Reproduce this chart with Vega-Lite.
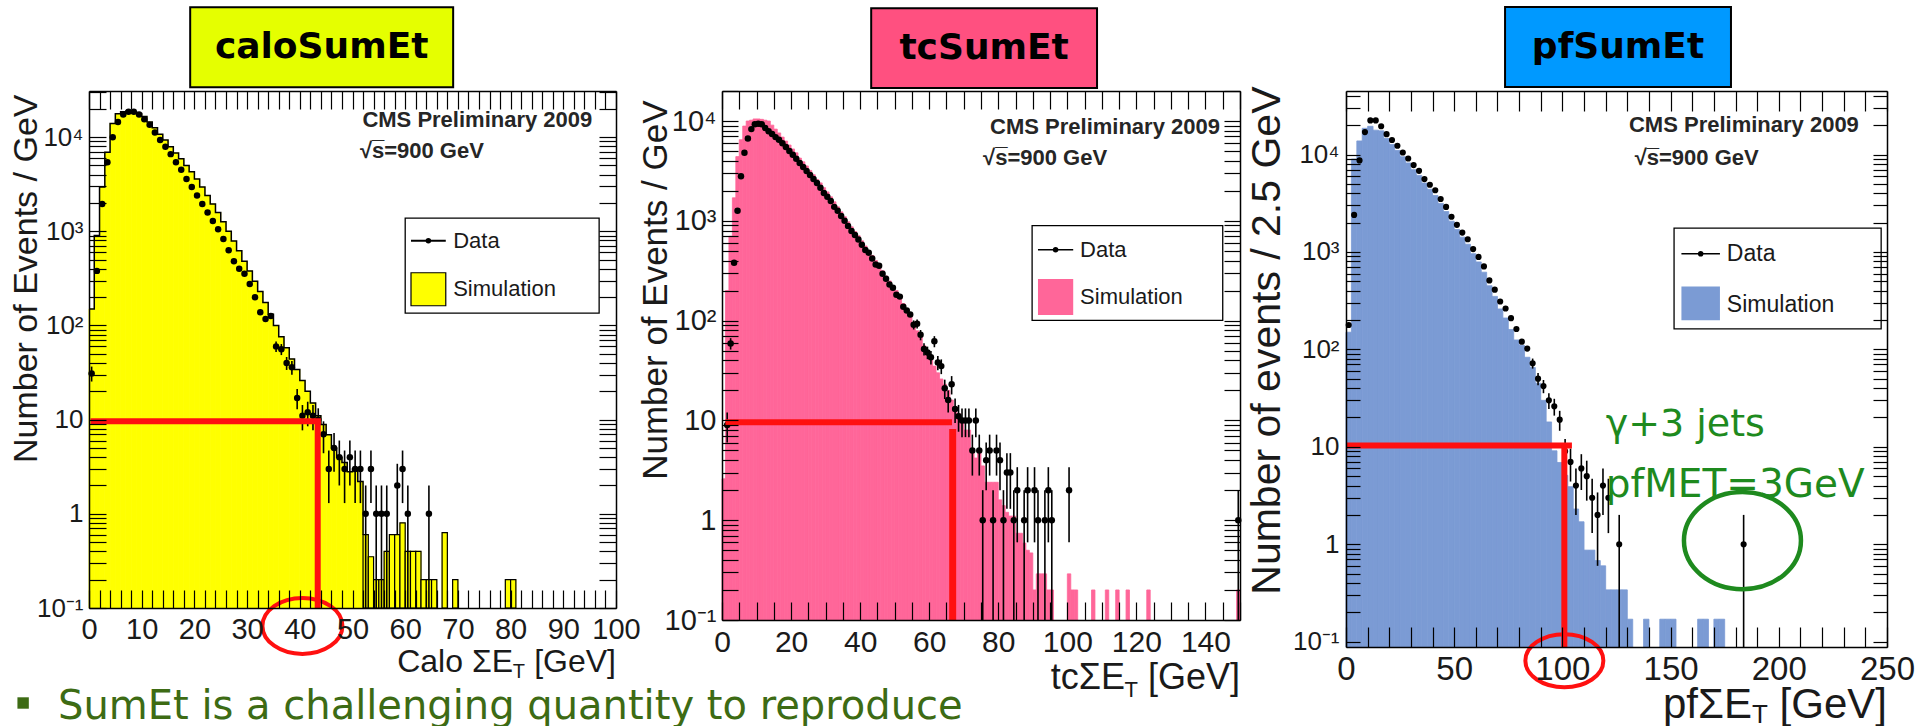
{
"$schema": "https://vega.github.io/schema/vega-lite/v6.json",
"background": "white",
"padding": {"left": 8, "top": 5, "right": 0, "bottom": 0},
"autosize": {"type": "pad"},
"config": {
  "view": {"stroke": null},
  "axis": {"grid": false, "domainColor": "black", "domainWidth": 1.5, "tickColor": "black", "tickWidth": 1.2, "labelFont": "Liberation Sans", "labelColor": "#1a1a1a", "labelOverlap": false, "labelFlush": false, "titleFont": "Liberation Sans", "titleFontWeight": "normal", "titleColor": "#1a1a1a"}
},
"datasets": {
  "p1sim": [
    {"lo":0,"hi":1,"n":150},{"lo":1,"hi":2,"n":900},{"lo":2,"hi":3,"n":2950},{"lo":3,"hi":4,"n":6900},{"lo":4,"hi":5,"n":14000},{"lo":5,"hi":6,"n":17700},{"lo":6,"hi":7,"n":18600},{"lo":7,"hi":8,"n":18900},{"lo":8,"hi":9,"n":18600},{"lo":9,"hi":10,"n":17800},
    {"lo":10,"hi":11,"n":16600},{"lo":11,"hi":12,"n":14500},{"lo":12,"hi":13,"n":12600},{"lo":13,"hi":14,"n":10700},{"lo":14,"hi":15,"n":9300},{"lo":15,"hi":16,"n":7900},{"lo":16,"hi":17,"n":6800},{"lo":17,"hi":18,"n":5900},{"lo":18,"hi":19,"n":5000},{"lo":19,"hi":20,"n":4300},
    {"lo":20,"hi":21,"n":3600},{"lo":21,"hi":22,"n":2950},{"lo":22,"hi":23,"n":2400},{"lo":23,"hi":24,"n":1950},{"lo":24,"hi":25,"n":1580},{"lo":25,"hi":26,"n":1260},{"lo":26,"hi":27,"n":1000},{"lo":27,"hi":28,"n":790},{"lo":28,"hi":29,"n":620},{"lo":29,"hi":30,"n":480},
    {"lo":30,"hi":31,"n":380},{"lo":31,"hi":32,"n":295},{"lo":32,"hi":33,"n":230},{"lo":33,"hi":34,"n":175},{"lo":34,"hi":35,"n":132},{"lo":35,"hi":36,"n":100},{"lo":36,"hi":37,"n":76},{"lo":37,"hi":38,"n":58},{"lo":38,"hi":39,"n":44},{"lo":39,"hi":40,"n":34},
    {"lo":40,"hi":41,"n":26},{"lo":41,"hi":42,"n":20},{"lo":42,"hi":43,"n":15},{"lo":43,"hi":44,"n":11},{"lo":44,"hi":45,"n":8.9},{"lo":45,"hi":46,"n":6.9},{"lo":46,"hi":47,"n":5},{"lo":47,"hi":48,"n":4},{"lo":48,"hi":49,"n":3.5},{"lo":49,"hi":50,"n":2.8},
    {"lo":50,"hi":51,"n":3},{"lo":51,"hi":52,"n":2.2},{"lo":52,"hi":53,"n":0.6},{"lo":53,"hi":54,"n":0.35},{"lo":54,"hi":55,"n":0.2},{"lo":55,"hi":56,"n":0.2},{"lo":56,"hi":57,"n":0.4},{"lo":57,"hi":58,"n":0.6},{"lo":58,"hi":59,"n":0.6},{"lo":59,"hi":60,"n":0.8},
    {"lo":60,"hi":61,"n":0.4},{"lo":61,"hi":62,"n":0.4},{"lo":62,"hi":63,"n":0.4},{"lo":63,"hi":64,"n":0.2},{"lo":64,"hi":65,"n":0.2},{"lo":65,"hi":66,"n":0.2},{"lo":67,"hi":68,"n":0.63},{"lo":69,"hi":70,"n":0.2},{"lo":79,"hi":80,"n":0.2},{"lo":80,"hi":81,"n":0.2}
  ],
  "p1dat": [
    {"c":0.5,"n":31,"lo":25.4,"hi":36.6},{"c":1.5,"n":380},{"c":2.5,"n":1950},{"c":3.5,"n":5400},{"c":4.5,"n":10000},{"c":5.5,"n":14500},{"c":6.5,"n":17400},{"c":7.5,"n":18600},{"c":8.5,"n":18600},{"c":9.5,"n":17400},
    {"c":10.5,"n":15500},{"c":11.5,"n":13500},{"c":12.5,"n":11200},{"c":13.5,"n":9300},{"c":14.5,"n":7900},{"c":15.5,"n":6600},{"c":16.5,"n":5400},{"c":17.5,"n":4500},{"c":18.5,"n":3600},{"c":19.5,"n":2950},
    {"c":20.5,"n":2400},{"c":21.5,"n":1950},{"c":22.5,"n":1580},{"c":23.5,"n":1290},{"c":24.5,"n":1050},{"c":25.5,"n":830},{"c":26.5,"n":630},{"c":27.5,"n":480},{"c":28.5,"n":400},{"c":29.5,"n":355},
    {"c":30.5,"n":275},{"c":31.5,"n":200},{"c":32.5,"n":138},{"c":33.5,"n":117},{"c":34.5,"n":126},{"c":35.5,"n":60,"lo":52.3,"hi":67.7},{"c":36.5,"n":56,"lo":48.5,"hi":63.5},{"c":37.5,"n":40,"lo":33.7,"hi":46.3},{"c":38.5,"n":36,"lo":30,"hi":42},{"c":39.5,"n":17,"lo":12.9,"hi":21.1},
    {"c":40.5,"n":11,"lo":7.7,"hi":14.3},{"c":41.5,"n":12,"lo":8.5,"hi":15.5},{"c":42.5,"n":11,"lo":7.7,"hi":14.3},{"c":43.5,"n":10,"lo":6.8,"hi":13.2},{"c":44.5,"n":7,"lo":4.4,"hi":9.6},{"c":45.5,"n":3,"lo":1.3,"hi":4.7},{"c":46.5,"n":5,"lo":2.8,"hi":7.2},{"c":47.5,"n":4,"lo":2,"hi":6},{"c":48.5,"n":3,"lo":1.3,"hi":4.7},{"c":49.5,"n":4,"lo":2,"hi":6},
    {"c":50.5,"n":3,"lo":1.3,"hi":4.7},{"c":51.5,"n":3,"lo":1.3,"hi":4.7},{"c":52.5,"n":1,"lo":0.1,"hi":2},{"c":53.5,"n":3,"lo":1.3,"hi":4.7},{"c":54.5,"n":1,"lo":0.1,"hi":2},{"c":55.5,"n":1,"lo":0.1,"hi":2},{"c":56.5,"n":1,"lo":0.1,"hi":2},{"c":58.5,"n":2,"lo":0.6,"hi":3.4},{"c":59.5,"n":3,"lo":1.3,"hi":4.7},{"c":60.5,"n":1,"lo":0.1,"hi":2},
    {"c":64.5,"n":1,"lo":0.1,"hi":2}
  ],
  "p2sim": [
    {"lo":0,"hi":1,"n":2.6},{"lo":1,"hi":2,"n":200},{"lo":2,"hi":3,"n":700},{"lo":3,"hi":4,"n":1700},{"lo":4,"hi":5,"n":4400},{"lo":5,"hi":6,"n":6500},{"lo":6,"hi":7,"n":8900},{"lo":7,"hi":8,"n":10000},{"lo":8,"hi":9,"n":10200},{"lo":9,"hi":10,"n":10500},
    {"lo":10,"hi":11,"n":10500},{"lo":11,"hi":12,"n":10400},{"lo":12,"hi":13,"n":10200},{"lo":13,"hi":14,"n":10000},{"lo":14,"hi":15,"n":9100},{"lo":15,"hi":16,"n":8300},{"lo":16,"hi":17,"n":7600},{"lo":17,"hi":18,"n":6900},{"lo":18,"hi":19,"n":6300},{"lo":19,"hi":20,"n":5750},
    {"lo":20,"hi":21,"n":5250},{"lo":21,"hi":22,"n":4800},{"lo":22,"hi":23,"n":4250},{"lo":23,"hi":24,"n":3900},{"lo":24,"hi":25,"n":3550},{"lo":25,"hi":26,"n":3200},{"lo":26,"hi":27,"n":2900},{"lo":27,"hi":28,"n":2600},{"lo":28,"hi":29,"n":2400},{"lo":29,"hi":30,"n":2150},
    {"lo":30,"hi":31,"n":1950},{"lo":31,"hi":32,"n":1740},{"lo":32,"hi":33,"n":1550},{"lo":33,"hi":34,"n":1380},{"lo":34,"hi":35,"n":1230},{"lo":35,"hi":36,"n":1100},{"lo":36,"hi":37,"n":980},{"lo":37,"hi":38,"n":870},{"lo":38,"hi":39,"n":780},{"lo":39,"hi":40,"n":710},
    {"lo":40,"hi":41,"n":630},{"lo":41,"hi":42,"n":560},{"lo":42,"hi":43,"n":500},{"lo":43,"hi":44,"n":450},{"lo":44,"hi":45,"n":400},{"lo":45,"hi":46,"n":355},{"lo":46,"hi":47,"n":316},{"lo":47,"hi":48,"n":280},{"lo":48,"hi":49,"n":250},{"lo":49,"hi":50,"n":224},
    {"lo":50,"hi":51,"n":200},{"lo":51,"hi":52,"n":174},{"lo":52,"hi":53,"n":148},{"lo":53,"hi":54,"n":129},{"lo":54,"hi":55,"n":110},{"lo":55,"hi":56,"n":95},{"lo":56,"hi":57,"n":79},{"lo":57,"hi":58,"n":68},{"lo":58,"hi":59,"n":56},{"lo":59,"hi":60,"n":48},
    {"lo":60,"hi":61,"n":40},{"lo":61,"hi":62,"n":35},{"lo":62,"hi":63,"n":30},{"lo":63,"hi":64,"n":26},{"lo":64,"hi":65,"n":23},{"lo":65,"hi":66,"n":20},{"lo":66,"hi":67,"n":16},{"lo":67,"hi":68,"n":12.6},{"lo":68,"hi":69,"n":11.7},{"lo":69,"hi":70,"n":10},
    {"lo":70,"hi":71,"n":8},{"lo":71,"hi":72,"n":8},{"lo":72,"hi":73,"n":4.9},{"lo":73,"hi":74,"n":4.2},{"lo":74,"hi":75,"n":4.9},{"lo":75,"hi":76,"n":3.5},{"lo":76,"hi":77,"n":2.4},{"lo":77,"hi":78,"n":2.4},{"lo":78,"hi":79,"n":2.4},{"lo":79,"hi":80,"n":2.4},
    {"lo":80,"hi":81,"n":1.6},{"lo":81,"hi":82,"n":1.4},{"lo":82,"hi":83,"n":1.2},{"lo":83,"hi":84,"n":1.1},{"lo":84,"hi":85,"n":1.1},{"lo":85,"hi":86,"n":0.74},{"lo":86,"hi":87,"n":0.74},{"lo":87,"hi":88,"n":0.59},{"lo":88,"hi":89,"n":0.5},{"lo":89,"hi":90,"n":0.47},
    {"lo":90,"hi":91,"n":0.2},{"lo":91,"hi":92,"n":0.29},{"lo":92,"hi":93,"n":0.29},{"lo":93,"hi":94,"n":0.29},{"lo":94,"hi":95,"n":0.2},{"lo":95,"hi":96,"n":0.2},{"lo":100,"hi":101,"n":0.29},{"lo":101,"hi":102,"n":0.2},{"lo":102,"hi":103,"n":0.2},{"lo":107,"hi":108,"n":0.2},
    {"lo":111,"hi":112,"n":0.2},{"lo":114,"hi":115,"n":0.2},{"lo":117,"hi":118,"n":0.2},{"lo":123,"hi":124,"n":0.2},{"lo":149,"hi":150,"n":0.2}
  ],
  "p2dat": [
    {"c":1.5,"n":9,"lo":6,"hi":12},{"c":2.5,"n":59,"lo":51.3,"hi":66.7},{"c":3.5,"n":380},{"c":4.5,"n":1260},{"c":5.5,"n":2800},{"c":6.5,"n":4800},{"c":7.5,"n":6700},{"c":8.5,"n":8300},{"c":9.5,"n":9300},{"c":10.5,"n":9400},
    {"c":11.5,"n":9300},{"c":12.5,"n":8500},{"c":13.5,"n":7900},{"c":14.5,"n":7400},{"c":15.5,"n":6900},{"c":16.5,"n":6500},{"c":17.5,"n":6000},{"c":18.5,"n":5500},{"c":19.5,"n":5000},{"c":20.5,"n":4600},
    {"c":21.5,"n":4200},{"c":22.5,"n":3800},{"c":23.5,"n":3470},{"c":24.5,"n":3160},{"c":25.5,"n":2880},{"c":26.5,"n":2630},{"c":27.5,"n":2400},{"c":28.5,"n":2140},{"c":29.5,"n":1900},{"c":30.5,"n":1740},
    {"c":31.5,"n":1580},{"c":32.5,"n":1380},{"c":33.5,"n":1260},{"c":34.5,"n":1120},{"c":35.5,"n":1000},{"c":36.5,"n":890},{"c":37.5,"n":790},{"c":38.5,"n":720},{"c":39.5,"n":650},{"c":40.5,"n":575},
    {"c":41.5,"n":510},{"c":42.5,"n":480},{"c":43.5,"n":420},{"c":44.5,"n":365},{"c":45.5,"n":355},{"c":46.5,"n":295},{"c":47.5,"n":263},{"c":48.5,"n":230},{"c":49.5,"n":214},{"c":50.5,"n":182},
    {"c":51.5,"n":174},{"c":52.5,"n":138},{"c":53.5,"n":126},{"c":54.5,"n":115},{"c":55.5,"n":91,"lo":81.5,"hi":100.5},{"c":56.5,"n":93,"lo":83.4,"hi":102.6},{"c":57.5,"n":72,"lo":63.5,"hi":80.5},{"c":58.5,"n":52,"lo":44.8,"hi":59.2},{"c":59.5,"n":48,"lo":41.1,"hi":54.9},{"c":60.5,"n":43,"lo":36.4,"hi":49.6},
    {"c":61.5,"n":62,"lo":54.1,"hi":69.9},{"c":62.5,"n":38,"lo":31.8,"hi":44.2},{"c":63.5,"n":35,"lo":29.1,"hi":40.9},{"c":64.5,"n":21,"lo":16.4,"hi":25.6},{"c":65.5,"n":16,"lo":12,"hi":20},{"c":66.5,"n":23,"lo":18.2,"hi":27.8},{"c":67.5,"n":13,"lo":9.4,"hi":16.6},{"c":68.5,"n":11,"lo":7.7,"hi":14.3},{"c":69.5,"n":10,"lo":6.8,"hi":13.2},{"c":70.5,"n":10,"lo":6.8,"hi":13.2},
    {"c":71.5,"n":10,"lo":6.8,"hi":13.2},{"c":72.5,"n":5,"lo":2.8,"hi":7.2},{"c":73.5,"n":10,"lo":6.8,"hi":13.2},{"c":74.5,"n":5,"lo":2.8,"hi":7.2},{"c":75.5,"n":1,"lo":0.1,"hi":2},{"c":76.5,"n":4,"lo":2,"hi":6},{"c":77.5,"n":5,"lo":2.8,"hi":7.2},{"c":78.5,"n":1,"lo":0.1,"hi":2},{"c":79.5,"n":5,"lo":2.8,"hi":7.2},{"c":80.5,"n":4,"lo":2,"hi":6},
    {"c":81.5,"n":1,"lo":0.1,"hi":2},{"c":82.5,"n":3,"lo":1.3,"hi":4.7},{"c":83.5,"n":3,"lo":1.3,"hi":4.7},{"c":84.5,"n":1,"lo":0.1,"hi":2},{"c":85.5,"n":2,"lo":0.6,"hi":3.4},{"c":87.5,"n":1,"lo":0.1,"hi":2},{"c":88.5,"n":2,"lo":0.6,"hi":3.4},{"c":90.5,"n":2,"lo":0.6,"hi":3.4},{"c":91.5,"n":1,"lo":0.1,"hi":2},{"c":93.5,"n":1,"lo":0.1,"hi":2},
    {"c":94.5,"n":2,"lo":0.6,"hi":3.4},{"c":95.5,"n":1,"lo":0.1,"hi":2},{"c":100.5,"n":2,"lo":0.6,"hi":3.4},{"c":149.5,"n":1,"lo":0.1,"hi":2}
  ],
  "p3sim": [
    {"lo":0,"hi":2.5,"n":150},{"lo":2.5,"hi":5,"n":9000},{"lo":5,"hi":7.5,"n":13800},{"lo":7.5,"hi":10,"n":18600},{"lo":10,"hi":12.5,"n":19500},{"lo":12.5,"hi":15,"n":17800},{"lo":15,"hi":17.5,"n":17500},{"lo":17.5,"hi":20,"n":14600},{"lo":20,"hi":22.5,"n":12700},{"lo":22.5,"hi":25,"n":11000},
    {"lo":25,"hi":27.5,"n":9500},{"lo":27.5,"hi":30,"n":8200},{"lo":30,"hi":32.5,"n":7000},{"lo":32.5,"hi":35,"n":6100},{"lo":35,"hi":37.5,"n":5100},{"lo":37.5,"hi":40,"n":4400},{"lo":40,"hi":42.5,"n":3800},{"lo":42.5,"hi":45,"n":3150},{"lo":45,"hi":47.5,"n":2600},{"lo":47.5,"hi":50,"n":2070},
    {"lo":50,"hi":52.5,"n":1700},{"lo":52.5,"hi":55,"n":1420},{"lo":55,"hi":57.5,"n":1200},{"lo":57.5,"hi":60,"n":960},{"lo":60,"hi":62.5,"n":790},{"lo":62.5,"hi":65,"n":620},{"lo":65,"hi":67.5,"n":450},{"lo":67.5,"hi":70,"n":350},{"lo":70,"hi":72.5,"n":260},{"lo":72.5,"hi":75,"n":210},
    {"lo":75,"hi":77.5,"n":160},{"lo":77.5,"hi":80,"n":125},{"lo":80,"hi":82.5,"n":110},{"lo":82.5,"hi":85,"n":83},{"lo":85,"hi":87.5,"n":65},{"lo":87.5,"hi":90,"n":45},{"lo":90,"hi":92.5,"n":30},{"lo":92.5,"hi":95,"n":18},{"lo":95,"hi":97.5,"n":9.1},{"lo":97.5,"hi":100,"n":6.9},
    {"lo":100,"hi":102.5,"n":5.1},{"lo":102.5,"hi":105,"n":3.9},{"lo":105,"hi":107.5,"n":2.3},{"lo":107.5,"hi":110,"n":1.7},{"lo":110,"hi":112.5,"n":0.87},{"lo":112.5,"hi":115,"n":0.87},{"lo":115,"hi":117.5,"n":0.68},{"lo":117.5,"hi":120,"n":0.6},{"lo":120,"hi":122.5,"n":0.34},{"lo":122.5,"hi":125,"n":0.34},
    {"lo":125,"hi":127.5,"n":0.34},{"lo":127.5,"hi":130,"n":0.34},{"lo":130,"hi":132.5,"n":0.17},{"lo":137.5,"hi":140,"n":0.17},{"lo":145,"hi":147.5,"n":0.17},{"lo":147.5,"hi":150,"n":0.17},{"lo":150,"hi":152.5,"n":0.17},{"lo":162.5,"hi":165,"n":0.17},{"lo":165,"hi":167.5,"n":0.17},{"lo":170,"hi":172.5,"n":0.17},
    {"lo":172.5,"hi":175,"n":0.17}
  ],
  "p3dat": [
    {"c":1.25,"n":178},{"c":3.75,"n":2400},{"c":6.25,"n":8700},{"c":8.75,"n":17000},{"c":11.25,"n":22400},{"c":13.75,"n":22400},{"c":16.25,"n":19500},{"c":18.75,"n":16200},{"c":21.25,"n":14100},{"c":23.75,"n":12300},
    {"c":26.25,"n":10500},{"c":28.75,"n":9100},{"c":31.25,"n":7800},{"c":33.75,"n":6800},{"c":36.25,"n":5600},{"c":38.75,"n":4900},{"c":41.25,"n":4300},{"c":43.75,"n":3500},{"c":46.25,"n":2900},{"c":48.75,"n":2300},
    {"c":51.25,"n":1900},{"c":53.75,"n":1580},{"c":56.25,"n":1350},{"c":58.75,"n":1070},{"c":61.25,"n":890},{"c":63.75,"n":710},{"c":66.25,"n":510},{"c":68.75,"n":410},{"c":71.25,"n":310},{"c":73.75,"n":263},
    {"c":76.25,"n":209},{"c":78.75,"n":162},{"c":81.25,"n":120},{"c":83.75,"n":102},{"c":86.25,"n":72,"lo":63.5,"hi":80.5},{"c":88.75,"n":50,"lo":42.9,"hi":57.1},{"c":91.25,"n":42,"lo":35.5,"hi":48.5},{"c":93.75,"n":30,"lo":24.5,"hi":35.5},{"c":96.25,"n":26,"lo":20.9,"hi":31.1},{"c":98.75,"n":19,"lo":14.6,"hi":23.4},
    {"c":101.25,"n":9,"lo":6,"hi":12},{"c":103.75,"n":7,"lo":4.4,"hi":9.6},{"c":106.25,"n":4,"lo":2,"hi":6},{"c":108.75,"n":6,"lo":3.6,"hi":8.4},{"c":111.25,"n":5,"lo":2.8,"hi":7.2},{"c":113.75,"n":3,"lo":1.3,"hi":4.7},{"c":116.25,"n":2,"lo":0.6,"hi":3.4},{"c":118.75,"n":4,"lo":2,"hi":6},{"c":121.25,"n":3,"lo":1.3,"hi":4.7},{"c":126.25,"n":1,"lo":0.0881,"hi":2},
    {"c":183.75,"n":1,"lo":0.0881,"hi":2}
  ]
},
"spacing": 106,
"bounds": "flush",
"hconcat": [
{
  "width": 527, "height": 517,
  "resolve": {"axis": {"x": "independent", "y": "independent"}},
  "layer": [
    {"data": {"name": "p1sim"}, "mark": {"type": "rect", "fill": "#ffff00", "stroke": "#ffff00", "strokeWidth": 0.8},
     "encoding": {
       "x": {"field": "lo", "type": "quantitative", "scale": {"domain": [0, 100], "nice": false, "zero": false},
             "axis": {"orient": "bottom", "values": [0,2,4,6,8,10,12,14,16,18,20,22,24,26,28,30,32,34,36,38,40,42,44,46,48,50,52,54,56,58,60,62,64,66,68,70,72,74,76,78,80,82,84,86,88,90,92,94,96,98,100], "format": "d", "labelExpr": "datum.value % 10 === 0 ? datum.label : ''", "tickSize": -18, "labelPadding": 25, "labelFontSize": 29, "title": null, "domain": true, "zindex": 1,
                      "encode": {"ticks": {"update": {"y2": {"signal": "datum.value % 10 === 0 ? -18 : -9"}}}}}},
       "x2": {"field": "hi"},
       "y": {"field": "n", "type": "quantitative", "scale": {"type": "log", "domain": [0.1, 30900], "nice": false},
             "axis": {"orient": "left", "values": [0.1,0.2,0.3,0.4,0.5,0.6,0.7,0.8,0.9,1,2,3,4,5,6,7,8,9,10,20,30,40,50,60,70,80,90,100,200,300,400,500,600,700,800,900,1000,2000,3000,4000,5000,6000,7000,8000,9000,10000,20000,30000],
                      "labelExpr": "datum.value === 10000 ? '10⁴' : datum.value === 1000 ? '10³' : datum.value === 100 ? '10²' : datum.value === 10 ? '10' : datum.value === 1 ? '1' : datum.value === 0.1 ? '10⁻¹' : ''",
                      "tickSize": -17, "labelPadding": 23, "labelFontSize": 26, "domain": true, "zindex": 1,
                      "title": "Number of Events / GeV", "titleFontSize": 34, "titleX": -53, "titleY": 3, "titleAlign": "right", "titleAngle": -90, "titleBaseline": "alphabetic",
                      "encode": {"ticks": {"update": {"x2": {"signal": "indexof([0.1,1,10,100,1000,10000], datum.value) >= 0 ? 17 : 8"}}}}}},
       "y2": {"datum": 0.1}
     }},
    {"data": {"name": "p1sim"}, "transform": [{"filter": "datum.lo >= 52"}], "mark": {"type": "rect", "fill": "#ffff00", "stroke": "black", "strokeWidth": 1.2},
     "encoding": {"x": {"field": "lo", "type": "quantitative", "axis": null}, "x2": {"field": "hi"}, "y": {"field": "n", "type": "quantitative", "axis": null}, "y2": {"datum": 0.1}}},
    {"data": {"name": "p1sim"}, "transform": [{"filter": "datum.lo <= 52"}], "mark": {"type": "line", "interpolate": "step-after", "color": "black", "strokeWidth": 1.5},
     "encoding": {"x": {"field": "lo", "type": "quantitative", "axis": null}, "y": {"field": "n", "type": "quantitative", "axis": null}}},
    {"data": {"name": "p1dat"}, "transform": [{"filter": "isValid(datum.lo)"}], "mark": {"type": "rule", "color": "black", "strokeWidth": 1.6},
     "encoding": {"x": {"field": "c", "type": "quantitative", "axis": null}, "y": {"field": "lo", "type": "quantitative", "axis": null}, "y2": {"field": "hi"}}},
    {"data": {"name": "p1dat"}, "mark": {"type": "point", "filled": true, "color": "black", "size": 42, "opacity": 1},
     "encoding": {
       "x": {"field": "c", "type": "quantitative", "axis": {"orient": "top", "values": [0,2,4,6,8,10,12,14,16,18,20,22,24,26,28,30,32,34,36,38,40,42,44,46,48,50,52,54,56,58,60,62,64,66,68,70,72,74,76,78,80,82,84,86,88,90,92,94,96,98,100], "labels": false, "tickSize": -18, "title": null, "domain": true, "zindex": 1, "encode": {"ticks": {"update": {"y2": {"signal": "datum.value % 10 === 0 ? 18 : 9"}}}}}},
       "y": {"field": "n", "type": "quantitative", "axis": {"orient": "right", "values": [0.1,0.2,0.3,0.4,0.5,0.6,0.7,0.8,0.9,1,2,3,4,5,6,7,8,9,10,20,30,40,50,60,70,80,90,100,200,300,400,500,600,700,800,900,1000,2000,3000,4000,5000,6000,7000,8000,9000,10000,20000,30000], "labels": false, "tickSize": -17, "title": null, "domain": true, "zindex": 1, "encode": {"ticks": {"update": {"x2": {"signal": "indexof([0.1,1,10,100,1000,10000], datum.value) >= 0 ? -17 : -8"}}}}}}
     }},
    {"data": {"values": [{}]}, "mark": {"type": "rule", "color": "#ff1010", "strokeWidth": 6},
     "encoding": {"x": {"datum": 0.3, "type": "quantitative", "axis": null}, "x2": {"datum": 44}, "y": {"datum": 9.6, "type": "quantitative", "axis": null}}},
    {"data": {"values": [{}]}, "mark": {"type": "rule", "color": "#ff1010", "strokeWidth": 6},
     "encoding": {"x": {"datum": 43.4, "type": "quantitative", "axis": null}, "y": {"datum": 9.6, "type": "quantitative", "axis": null}, "y2": {"datum": 0.1}}},
    {"data": {"values": [{}]}, "mark": {"type": "point", "shape": "M-1,0C-1,-0.3866,-0.5523,-0.7,0,-0.7C0.5523,-0.7,1,-0.3866,1,0C1,0.3866,0.5523,0.7,0,0.7C-0.5523,0.7,-1,0.3866,-1,0Z", "filled": false, "stroke": "#ff1010", "strokeWidth": 4, "size": 6400, "opacity": 1},
     "encoding": {"x": {"datum": 40.5, "type": "quantitative", "axis": null}, "y": {"datum": 0.0645, "type": "quantitative", "axis": null}}},
    {"data": {"values": [{}]}, "mark": {"type": "rect", "fill": "white", "stroke": "black", "strokeWidth": 1.3},
     "encoding": {"x": {"datum": 60, "type": "quantitative", "axis": null}, "x2": {"datum": 96.8}, "y": {"datum": 1380, "type": "quantitative", "axis": null}, "y2": {"datum": 135}}},
    {"data": {"values": [{}]}, "mark": {"type": "rule", "color": "black", "strokeWidth": 2},
     "encoding": {"x": {"datum": 61.1, "type": "quantitative", "axis": null}, "x2": {"datum": 67.7}, "y": {"datum": 794, "type": "quantitative", "axis": null}}},
    {"data": {"values": [{}]}, "mark": {"type": "point", "filled": true, "color": "black", "size": 30, "opacity": 1},
     "encoding": {"x": {"datum": 64.4, "type": "quantitative", "axis": null}, "y": {"datum": 794, "type": "quantitative", "axis": null}}},
    {"data": {"values": [{}]}, "mark": {"type": "rect", "fill": "#ffff00", "stroke": "black", "strokeWidth": 1.2},
     "encoding": {"x": {"datum": 61.1, "type": "quantitative", "axis": null}, "x2": {"datum": 67.7}, "y": {"datum": 363, "type": "quantitative", "axis": null}, "y2": {"datum": 162}}},
    {"data": {"values": [{}]}, "mark": {"type": "text", "text": "Data", "align": "left", "baseline": "middle", "font": "Liberation Sans", "fontSize": 22, "color": "#1a1a1a"},
     "encoding": {"x": {"datum": 69.1, "type": "quantitative", "axis": null}, "y": {"datum": 794, "type": "quantitative", "axis": null}}},
    {"data": {"values": [{}]}, "mark": {"type": "text", "text": "Simulation", "align": "left", "baseline": "middle", "font": "Liberation Sans", "fontSize": 22, "color": "#1a1a1a"},
     "encoding": {"x": {"datum": 69.1, "type": "quantitative", "axis": null}, "y": {"datum": 245, "type": "quantitative", "axis": null}}},
    {"data": {"values": [{}]}, "mark": {"type": "text", "text": "CMS Preliminary 2009", "align": "right", "baseline": "middle", "font": "Liberation Sans", "fontWeight": "bold", "fontSize": 22, "color": "#262626"},
     "encoding": {"x": {"datum": 95.5, "type": "quantitative", "axis": null}, "y": {"datum": 15100, "type": "quantitative", "axis": null}}},
    {"data": {"values": [{}]}, "mark": {"type": "text", "text": "√s̅=900 GeV", "align": "left", "baseline": "middle", "font": "Liberation Sans", "fontWeight": "bold", "fontSize": 22, "color": "#262626"},
     "encoding": {"x": {"datum": 51.4, "type": "quantitative", "axis": null}, "y": {"datum": 7080, "type": "quantitative", "axis": null}}},
    {"data": {"values": [{}]}, "mark": {"type": "rect", "fill": "#e5ff00", "stroke": "black", "strokeWidth": 2},
     "encoding": {"x": {"datum": 19.2, "type": "quantitative", "axis": null}, "x2": {"datum": 69.1}, "y": {"datum": 240000, "type": "quantitative", "axis": null}, "y2": {"datum": 33900}}},
    {"data": {"values": [{}]}, "mark": {"type": "text", "text": "caloSumEt", "align": "center", "baseline": "middle", "font": "DejaVu Sans", "fontWeight": "bold", "fontSize": 36, "color": "black"},
     "encoding": {"x": {"datum": 44.15, "type": "quantitative", "axis": null}, "y": {"datum": 90200, "type": "quantitative", "axis": null}}},
    {"data": {"values": [{}]}, "mark": {"type": "text", "text": "[GeV]", "align": "right", "baseline": "alphabetic", "font": "Liberation Sans", "fontSize": 32, "color": "#1a1a1a"},
     "encoding": {"x": {"datum": 100, "type": "quantitative", "axis": null}, "y": {"datum": 0.0209, "type": "quantitative", "axis": null}}},
    {"data": {"values": [{}]}, "mark": {"type": "text", "text": "T", "align": "right", "baseline": "alphabetic", "dx": -91, "dy": 6, "font": "Liberation Sans", "fontSize": 20, "color": "#1a1a1a"},
     "encoding": {"x": {"datum": 100, "type": "quantitative", "axis": null}, "y": {"datum": 0.0209, "type": "quantitative", "axis": null}}},
    {"data": {"values": [{}]}, "mark": {"type": "text", "text": "Calo ΣE", "align": "right", "baseline": "alphabetic", "dx": -103, "font": "Liberation Sans", "fontSize": 32, "color": "#1a1a1a"},
     "encoding": {"x": {"datum": 100, "type": "quantitative", "axis": null}, "y": {"datum": 0.0209, "type": "quantitative", "axis": null}}},
    {"data": {"values": [{}]}, "mark": {"type": "point", "shape": "square", "filled": true, "color": "#3d6b14", "size": 130, "opacity": 1},
     "encoding": {"x": {"datum": -12.5, "type": "quantitative", "axis": null}, "y": {"datum": 0.0098, "type": "quantitative", "axis": null}}},
    {"data": {"values": [{}]}, "mark": {"type": "text", "text": "SumEt is a challenging quantity to reproduce", "align": "left", "baseline": "alphabetic", "font": "DejaVu Sans", "fontSize": 40, "color": "#3d6b14"},
     "encoding": {"x": {"datum": -5.88, "type": "quantitative", "axis": null}, "y": {"datum": 0.00663, "type": "quantitative", "axis": null}}}
  ]
},
{
  "width": 518, "height": 529,
  "resolve": {"axis": {"x": "independent", "y": "independent"}},
  "layer": [
    {"data": {"name": "p2sim"}, "mark": {"type": "rect", "fill": "#ff6699", "stroke": "#ff6699", "strokeWidth": 0.8},
     "encoding": {
       "x": {"field": "lo", "type": "quantitative", "scale": {"domain": [0, 150], "nice": false, "zero": false},
             "axis": {"orient": "bottom", "values": [0,5,10,15,20,25,30,35,40,45,50,55,60,65,70,75,80,85,90,95,100,105,110,115,120,125,130,135,140,145,150], "format": "d", "labelExpr": "datum.value % 20 === 0 ? datum.label : ''", "tickSize": -18, "labelPadding": 25, "labelFontSize": 30, "title": null, "domain": true, "zindex": 1,
                      "encode": {"ticks": {"update": {"y2": {"signal": "datum.value % 20 === 0 ? -18 : -9"}}}}}},
       "x2": {"field": "hi"},
       "y": {"field": "n", "type": "quantitative", "scale": {"type": "log", "domain": [0.1, 20000], "nice": false},
             "axis": {"orient": "left", "values": [0.1,0.2,0.3,0.4,0.5,0.6,0.7,0.8,0.9,1,2,3,4,5,6,7,8,9,10,20,30,40,50,60,70,80,90,100,200,300,400,500,600,700,800,900,1000,2000,3000,4000,5000,6000,7000,8000,9000,10000,20000],
                      "labelExpr": "datum.value === 10000 ? '10⁴' : datum.value === 1000 ? '10³' : datum.value === 100 ? '10²' : datum.value === 10 ? '10' : datum.value === 1 ? '1' : datum.value === 0.1 ? '10⁻¹' : ''",
                      "tickSize": -16, "labelPadding": 22, "labelFontSize": 29, "domain": true, "zindex": 1,
                      "title": "Number of Events / GeV", "titleFontSize": 35, "titleX": -56, "titleY": 9, "titleAlign": "right", "titleAngle": -90, "titleBaseline": "alphabetic",
                      "encode": {"ticks": {"update": {"x2": {"signal": "indexof([0.1,1,10,100,1000,10000], datum.value) >= 0 ? 16 : 8"}}}}}},
       "y2": {"datum": 0.1}
     }},
    {"data": {"name": "p2dat"}, "transform": [{"filter": "isValid(datum.lo)"}], "mark": {"type": "rule", "color": "black", "strokeWidth": 1.6},
     "encoding": {"x": {"field": "c", "type": "quantitative", "axis": null}, "y": {"field": "lo", "type": "quantitative", "axis": null}, "y2": {"field": "hi"}}},
    {"data": {"name": "p2dat"}, "mark": {"type": "point", "filled": true, "color": "black", "size": 42, "opacity": 1},
     "encoding": {
       "x": {"field": "c", "type": "quantitative", "axis": {"orient": "top", "values": [0,5,10,15,20,25,30,35,40,45,50,55,60,65,70,75,80,85,90,95,100,105,110,115,120,125,130,135,140,145,150], "labels": false, "tickSize": -18, "title": null, "domain": true, "zindex": 1, "encode": {"ticks": {"update": {"y2": {"signal": "datum.value % 20 === 0 ? 18 : 9"}}}}}},
       "y": {"field": "n", "type": "quantitative", "axis": {"orient": "right", "values": [0.1,0.2,0.3,0.4,0.5,0.6,0.7,0.8,0.9,1,2,3,4,5,6,7,8,9,10,20,30,40,50,60,70,80,90,100,200,300,400,500,600,700,800,900,1000,2000,3000,4000,5000,6000,7000,8000,9000,10000,20000], "labels": false, "tickSize": -16, "title": null, "domain": true, "zindex": 1, "encode": {"ticks": {"update": {"x2": {"signal": "indexof([0.1,1,10,100,1000,10000], datum.value) >= 0 ? -16 : -8"}}}}}}
     }},
    {"data": {"values": [{}]}, "mark": {"type": "rule", "color": "#ff1010", "strokeWidth": 6},
     "encoding": {"x": {"datum": 1, "type": "quantitative", "axis": null}, "x2": {"datum": 66.6}, "y": {"datum": 9.6, "type": "quantitative", "axis": null}}},
    {"data": {"values": [{}]}, "mark": {"type": "rule", "color": "#ff1010", "strokeWidth": 7},
     "encoding": {"x": {"datum": 66.8, "type": "quantitative", "axis": null}, "y": {"datum": 8.2, "type": "quantitative", "axis": null}, "y2": {"datum": 0.1}}},
    {"data": {"values": [{}]}, "mark": {"type": "rect", "fill": "white", "stroke": "black", "strokeWidth": 1.3},
     "encoding": {"x": {"datum": 89.8, "type": "quantitative", "axis": null}, "x2": {"datum": 145}, "y": {"datum": 897, "type": "quantitative", "axis": null}, "y2": {"datum": 100.5}}},
    {"data": {"values": [{}]}, "mark": {"type": "rule", "color": "black", "strokeWidth": 1.5},
     "encoding": {"x": {"datum": 91.5, "type": "quantitative", "axis": null}, "x2": {"datum": 101.7}, "y": {"datum": 514, "type": "quantitative", "axis": null}}},
    {"data": {"values": [{}]}, "mark": {"type": "point", "filled": true, "color": "black", "size": 30, "opacity": 1},
     "encoding": {"x": {"datum": 96.6, "type": "quantitative", "axis": null}, "y": {"datum": 514, "type": "quantitative", "axis": null}}},
    {"data": {"values": [{}]}, "mark": {"type": "rect", "fill": "#ff6699"},
     "encoding": {"x": {"datum": 91.5, "type": "quantitative", "axis": null}, "x2": {"datum": 101.7}, "y": {"datum": 262, "type": "quantitative", "axis": null}, "y2": {"datum": 114}}},
    {"data": {"values": [{}]}, "mark": {"type": "text", "text": "Data", "align": "left", "baseline": "middle", "font": "Liberation Sans", "fontSize": 22, "color": "#1a1a1a"},
     "encoding": {"x": {"datum": 103.7, "type": "quantitative", "axis": null}, "y": {"datum": 514, "type": "quantitative", "axis": null}}},
    {"data": {"values": [{}]}, "mark": {"type": "text", "text": "Simulation", "align": "left", "baseline": "middle", "font": "Liberation Sans", "fontSize": 22, "color": "#1a1a1a"},
     "encoding": {"x": {"datum": 103.7, "type": "quantitative", "axis": null}, "y": {"datum": 172, "type": "quantitative", "axis": null}}},
    {"data": {"values": [{}]}, "mark": {"type": "text", "text": "CMS Preliminary 2009", "align": "right", "baseline": "middle", "font": "Liberation Sans", "fontWeight": "bold", "fontSize": 22, "color": "#262626"},
     "encoding": {"x": {"datum": 144.2, "type": "quantitative", "axis": null}, "y": {"datum": 8700, "type": "quantitative", "axis": null}}},
    {"data": {"values": [{}]}, "mark": {"type": "text", "text": "√s̅=900 GeV", "align": "left", "baseline": "middle", "font": "Liberation Sans", "fontWeight": "bold", "fontSize": 22, "color": "#262626"},
     "encoding": {"x": {"datum": 75.6, "type": "quantitative", "axis": null}, "y": {"datum": 4270, "type": "quantitative", "axis": null}}},
    {"data": {"values": [{}]}, "mark": {"type": "rect", "fill": "#ff5080", "stroke": "black", "strokeWidth": 2},
     "encoding": {"x": {"datum": 43.2, "type": "quantitative", "axis": null}, "x2": {"datum": 108.6}, "y": {"datum": 135000, "type": "quantitative", "axis": null}, "y2": {"datum": 21400}}},
    {"data": {"values": [{}]}, "mark": {"type": "text", "text": "tcSumEt", "align": "center", "baseline": "middle", "font": "DejaVu Sans", "fontWeight": "bold", "fontSize": 36, "color": "black"},
     "encoding": {"x": {"datum": 75.9, "type": "quantitative", "axis": null}, "y": {"datum": 53700, "type": "quantitative", "axis": null}}},
    {"data": {"values": [{}]}, "mark": {"type": "text", "text": "[GeV]", "align": "right", "baseline": "alphabetic", "font": "Liberation Sans", "fontSize": 36, "color": "#1a1a1a"},
     "encoding": {"x": {"datum": 150, "type": "quantitative", "axis": null}, "y": {"datum": 0.0204, "type": "quantitative", "axis": null}}},
    {"data": {"values": [{}]}, "mark": {"type": "text", "text": "T", "align": "right", "baseline": "alphabetic", "dx": -102, "dy": 8, "font": "Liberation Sans", "fontSize": 22, "color": "#1a1a1a"},
     "encoding": {"x": {"datum": 150, "type": "quantitative", "axis": null}, "y": {"datum": 0.0204, "type": "quantitative", "axis": null}}},
    {"data": {"values": [{}]}, "mark": {"type": "text", "text": "tcΣE", "align": "right", "baseline": "alphabetic", "dx": -115, "font": "Liberation Sans", "fontSize": 36, "color": "#1a1a1a"},
     "encoding": {"x": {"datum": 150, "type": "quantitative", "axis": null}, "y": {"datum": 0.0204, "type": "quantitative", "axis": null}}}
  ]
},
{
  "width": 541, "height": 556,
  "resolve": {"axis": {"x": "independent", "y": "independent"}},
  "layer": [
    {"data": {"name": "p3sim"}, "mark": {"type": "rect", "fill": "#7b9bd4", "stroke": "#7b9bd4", "strokeWidth": 0.8},
     "encoding": {
       "x": {"field": "lo", "type": "quantitative", "scale": {"domain": [0, 250], "nice": false, "zero": false},
             "axis": {"orient": "bottom", "values": [0,10,20,30,40,50,60,70,80,90,100,110,120,130,140,150,160,170,180,190,200,210,220,230,240,250], "format": "d", "labelExpr": "datum.value % 50 === 0 ? datum.label : ''", "tickSize": -20, "labelPadding": 26, "labelFontSize": 33, "title": null, "domain": true, "zindex": 1,
                      "encode": {"ticks": {"update": {"y2": {"signal": "datum.value % 50 === 0 ? -20 : -10"}}}}}},
       "x2": {"field": "hi"},
       "y": {"field": "n", "type": "quantitative", "scale": {"type": "log", "domain": [0.0881, 44900], "nice": false},
             "axis": {"orient": "left", "values": [0.1,0.2,0.3,0.4,0.5,0.6,0.7,0.8,0.9,1,2,3,4,5,6,7,8,9,10,20,30,40,50,60,70,80,90,100,200,300,400,500,600,700,800,900,1000,2000,3000,4000,5000,6000,7000,8000,9000,10000,20000,30000,40000],
                      "labelExpr": "datum.value === 10000 ? '10⁴' : datum.value === 1000 ? '10³' : datum.value === 100 ? '10²' : datum.value === 10 ? '10' : datum.value === 1 ? '1' : datum.value === 0.1 ? '10⁻¹' : ''",
                      "tickSize": -14, "labelPadding": 21, "labelFontSize": 26, "domain": true, "zindex": 1,
                      "title": "Number of events / 2.5 GeV", "titleFontSize": 41, "titleX": -67, "titleY": -5, "titleAlign": "right", "titleAngle": -90, "titleBaseline": "alphabetic",
                      "encode": {"ticks": {"update": {"x2": {"signal": "indexof([0.1,1,10,100,1000,10000], datum.value) >= 0 ? 14 : 7"}}}}}},
       "y2": {"datum": 0.0881}
     }},
    {"data": {"name": "p3dat"}, "transform": [{"filter": "isValid(datum.lo)"}], "mark": {"type": "rule", "color": "black", "strokeWidth": 1.6},
     "encoding": {"x": {"field": "c", "type": "quantitative", "axis": null}, "y": {"field": "lo", "type": "quantitative", "axis": null}, "y2": {"field": "hi"}}},
    {"data": {"name": "p3dat"}, "mark": {"type": "point", "filled": true, "color": "black", "size": 38, "opacity": 1},
     "encoding": {
       "x": {"field": "c", "type": "quantitative", "axis": {"orient": "top", "values": [0,10,20,30,40,50,60,70,80,90,100,110,120,130,140,150,160,170,180,190,200,210,220,230,240,250], "labels": false, "tickSize": -20, "title": null, "domain": true, "zindex": 1, "encode": {"ticks": {"update": {"y2": {"signal": "datum.value % 50 === 0 ? 20 : 10"}}}}}},
       "y": {"field": "n", "type": "quantitative", "axis": {"orient": "right", "values": [0.1,0.2,0.3,0.4,0.5,0.6,0.7,0.8,0.9,1,2,3,4,5,6,7,8,9,10,20,30,40,50,60,70,80,90,100,200,300,400,500,600,700,800,900,1000,2000,3000,4000,5000,6000,7000,8000,9000,10000,20000,30000,40000], "labels": false, "tickSize": -14, "title": null, "domain": true, "zindex": 1, "encode": {"ticks": {"update": {"x2": {"signal": "indexof([0.1,1,10,100,1000,10000], datum.value) >= 0 ? -14 : -7"}}}}}}
     }},
    {"data": {"values": [{}]}, "mark": {"type": "rule", "color": "#ff1010", "strokeWidth": 6},
     "encoding": {"x": {"datum": 0, "type": "quantitative", "axis": null}, "x2": {"datum": 104.4}, "y": {"datum": 10.3, "type": "quantitative", "axis": null}}},
    {"data": {"values": [{}]}, "mark": {"type": "rule", "color": "#ff1010", "strokeWidth": 6},
     "encoding": {"x": {"datum": 100.9, "type": "quantitative", "axis": null}, "y": {"datum": 10.3, "type": "quantitative", "axis": null}, "y2": {"datum": 0.0881}}},
    {"data": {"values": [{}]}, "mark": {"type": "point", "shape": "M-1,0C-1,-0.3756,-0.5523,-0.68,0,-0.68C0.5523,-0.68,1,-0.3756,1,0C1,0.3756,0.5523,0.68,0,0.68C-0.5523,0.68,-1,0.3756,-1,0Z", "filled": false, "stroke": "#ff1010", "strokeWidth": 4, "size": 6084, "opacity": 1},
     "encoding": {"x": {"datum": 100.9, "type": "quantitative", "axis": null}, "y": {"datum": 0.0637, "type": "quantitative", "axis": null}}},
    {"data": {"values": [{}]}, "mark": {"type": "point", "shape": "M-1,0C-1,-0.4584,-0.5523,-0.83,0,-0.83C0.5523,-0.83,1,-0.4584,1,0C1,0.4584,0.5523,0.83,0,0.83C-0.5523,0.83,-1,0.4584,-1,0Z", "filled": false, "stroke": "#1e8a1e", "strokeWidth": 4.5, "size": 13689, "opacity": 1},
     "encoding": {"x": {"datum": 183.2, "type": "quantitative", "axis": null}, "y": {"datum": 1.09, "type": "quantitative", "axis": null}}},
    {"data": {"values": [{}]}, "mark": {"type": "text", "text": "γ+3 jets", "align": "left", "baseline": "middle", "font": "DejaVu Sans", "fontSize": 38, "color": "#1e8a1e"},
     "encoding": {"x": {"datum": 120, "type": "quantitative", "axis": null}, "y": {"datum": 16.9, "type": "quantitative", "axis": null}}},
    {"data": {"values": [{}]}, "mark": {"type": "text", "text": "pfMET=3GeV", "align": "left", "baseline": "middle", "font": "DejaVu Sans", "fontSize": 39, "color": "#1e8a1e"},
     "encoding": {"x": {"datum": 120, "type": "quantitative", "axis": null}, "y": {"datum": 4.07, "type": "quantitative", "axis": null}}},
    {"data": {"values": [{}]}, "mark": {"type": "rect", "fill": "white", "stroke": "black", "strokeWidth": 1.3},
     "encoding": {"x": {"datum": 151.6, "type": "quantitative", "axis": null}, "x2": {"datum": 247.3}, "y": {"datum": 1760, "type": "quantitative", "axis": null}, "y2": {"datum": 162}}},
    {"data": {"values": [{}]}, "mark": {"type": "rule", "color": "black", "strokeWidth": 1.5},
     "encoding": {"x": {"datum": 155, "type": "quantitative", "axis": null}, "x2": {"datum": 172.8}, "y": {"datum": 957, "type": "quantitative", "axis": null}}},
    {"data": {"values": [{}]}, "mark": {"type": "point", "filled": true, "color": "black", "size": 30, "opacity": 1},
     "encoding": {"x": {"datum": 163.9, "type": "quantitative", "axis": null}, "y": {"datum": 957, "type": "quantitative", "axis": null}}},
    {"data": {"values": [{}]}, "mark": {"type": "rect", "fill": "#7b9bd4"},
     "encoding": {"x": {"datum": 155, "type": "quantitative", "axis": null}, "x2": {"datum": 172.8}, "y": {"datum": 442, "type": "quantitative", "axis": null}, "y2": {"datum": 199}}},
    {"data": {"values": [{}]}, "mark": {"type": "text", "text": "Data", "align": "left", "baseline": "middle", "font": "Liberation Sans", "fontSize": 23, "color": "#1a1a1a"},
     "encoding": {"x": {"datum": 176, "type": "quantitative", "axis": null}, "y": {"datum": 957, "type": "quantitative", "axis": null}}},
    {"data": {"values": [{}]}, "mark": {"type": "text", "text": "Simulation", "align": "left", "baseline": "middle", "font": "Liberation Sans", "fontSize": 23, "color": "#1a1a1a"},
     "encoding": {"x": {"datum": 176, "type": "quantitative", "axis": null}, "y": {"datum": 286, "type": "quantitative", "axis": null}}},
    {"data": {"values": [{}]}, "mark": {"type": "text", "text": "CMS Preliminary 2009", "align": "right", "baseline": "middle", "font": "Liberation Sans", "fontWeight": "bold", "fontSize": 22, "color": "#262626"},
     "encoding": {"x": {"datum": 237, "type": "quantitative", "axis": null}, "y": {"datum": 20300, "type": "quantitative", "axis": null}}},
    {"data": {"values": [{}]}, "mark": {"type": "text", "text": "√s̅=900 GeV", "align": "left", "baseline": "middle", "font": "Liberation Sans", "fontWeight": "bold", "fontSize": 22, "color": "#262626"},
     "encoding": {"x": {"datum": 133.4, "type": "quantitative", "axis": null}, "y": {"datum": 9140, "type": "quantitative", "axis": null}}},
    {"data": {"values": [{}]}, "mark": {"type": "rect", "fill": "#0099ff", "stroke": "black", "strokeWidth": 2},
     "encoding": {"x": {"datum": 73.5, "type": "quantitative", "axis": null}, "x2": {"datum": 177.9}, "y": {"datum": 327000, "type": "quantitative", "axis": null}, "y2": {"datum": 49400}}},
    {"data": {"values": [{}]}, "mark": {"type": "text", "text": "pfSumEt", "align": "center", "baseline": "middle", "font": "DejaVu Sans", "fontWeight": "bold", "fontSize": 36, "color": "black"},
     "encoding": {"x": {"datum": 125.7, "type": "quantitative", "axis": null}, "y": {"datum": 127200, "type": "quantitative", "axis": null}}},
    {"data": {"values": [{}]}, "mark": {"type": "text", "text": "[GeV]", "align": "right", "baseline": "alphabetic", "font": "Liberation Sans", "fontSize": 42, "color": "#1a1a1a"},
     "encoding": {"x": {"datum": 250, "type": "quantitative", "axis": null}, "y": {"datum": 0.01644, "type": "quantitative", "axis": null}}},
    {"data": {"values": [{}]}, "mark": {"type": "text", "text": "T", "align": "right", "baseline": "alphabetic", "dx": -119, "dy": 5, "font": "Liberation Sans", "fontSize": 26, "color": "#1a1a1a"},
     "encoding": {"x": {"datum": 250, "type": "quantitative", "axis": null}, "y": {"datum": 0.01644, "type": "quantitative", "axis": null}}},
    {"data": {"values": [{}]}, "mark": {"type": "text", "text": "pfΣE", "align": "right", "baseline": "alphabetic", "dx": -135, "font": "Liberation Sans", "fontSize": 42, "color": "#1a1a1a"},
     "encoding": {"x": {"datum": 250, "type": "quantitative", "axis": null}, "y": {"datum": 0.01644, "type": "quantitative", "axis": null}}}
  ]
}
]
}
